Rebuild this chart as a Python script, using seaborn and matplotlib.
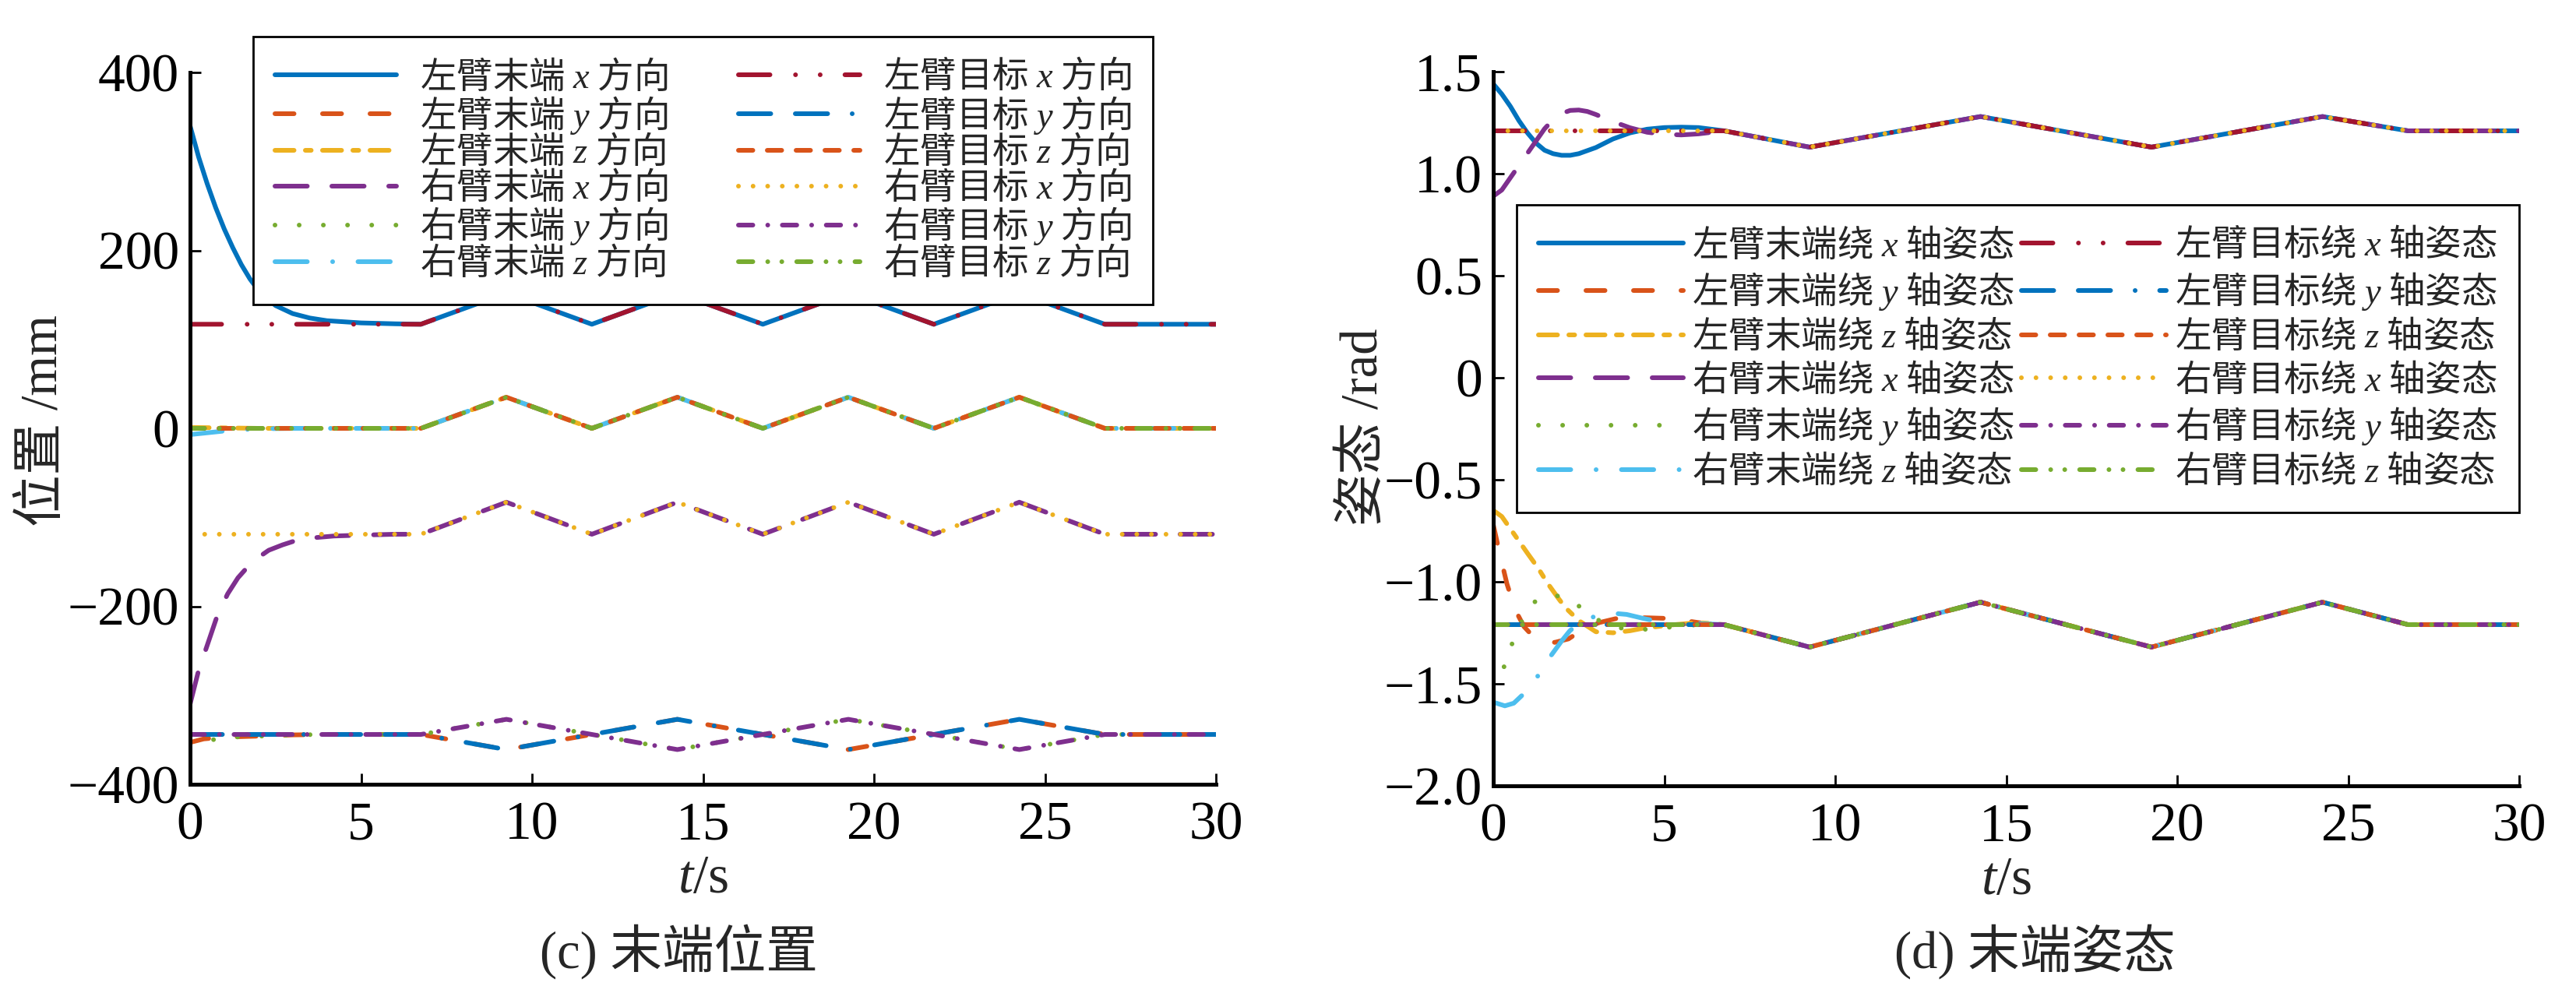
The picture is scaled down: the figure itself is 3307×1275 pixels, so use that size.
import matplotlib
matplotlib.use('Agg')
import matplotlib.pyplot as plt
from matplotlib.ticker import FuncFormatter, MultipleLocator
import seaborn as sns

# ---- knot times of the commanded trajectories (s) ----
t_pos = [0, 6.75, 9.25, 11.75, 14.25, 16.75, 19.25, 21.75, 24.25, 26.75, 30]
t_ori = [0, 6.75, 9.25, 14.25, 19.25, 24.25, 26.75, 30]

# ---- (c) target positions at the knots (mm) ----
pos_lx_tgt = [117, 117, 152, 117, 152, 117, 152, 117, 152, 117, 117]
pos_ly_tgt = [-344, -344, -361, -344, -327, -344, -361, -344, -327, -344, -344]
pos_lz_tgt = [0, 0, 35, 0, 35, 0, 35, 0, 35, 0, 0]
pos_rx_tgt = [-119, -119, -83, -119, -83, -119, -83, -119, -83, -119, -119]
pos_ry_tgt = [-344, -344, -327, -344, -361, -344, -327, -344, -361, -344, -344]
pos_rz_tgt = [0, 0, 35, 0, 35, 0, 35, 0, 35, 0, 0]

# ---- (c) start-up transients of the end effectors ----
tr_lx_t = [0, 0.25, 0.5, 0.75, 1.0, 1.25, 1.5, 1.75, 2.0, 2.5, 3.0, 3.5, 4.0, 5.0, 6.0, 6.75]
tr_lx_v = [340, 305, 275, 248, 224, 203, 184, 168, 155, 138, 129, 124, 121, 118.5, 117.5, 117]
tr_ly_t = [0, 0.4, 1.0, 1.9, 3.0, 4.0, 6.75]
tr_ly_v = [-353, -349, -347, -346, -344.5, -344, -344]
tr_lz_t = [0, 1.0, 2.0, 6.75]
tr_lz_v = [1, 0.5, 0, 0]
tr_rx_t = [0, 0.25, 0.5, 0.8, 1.1, 1.4, 1.7, 2.0, 2.3, 2.7, 3.1, 3.6, 4.2, 5.0, 6.0, 6.75]
tr_rx_v = [-310, -272, -244, -210, -186, -168, -155, -145, -137, -131, -126, -123, -121, -120, -119, -119]
tr_ry_t = [0, 0.3, 0.65, 1.3, 2.0, 3.0, 4.0, 6.75]
tr_ry_v = [-356, -352, -350, -347, -346, -344.5, -344, -344]
tr_rz_t = [0, 0.5, 1.0, 1.5, 2.0, 3.0, 6.75]
tr_rz_v = [-7, -5, -3, -1.5, -0.5, 0, 0]

# ---- (d) target orientations at the knots (rad) ----
ori_x_tgt = [1.21, 1.21, 1.13, 1.28, 1.13, 1.28, 1.21, 1.21]
ori_yz_tgt = [-1.21, -1.21, -1.32, -1.10, -1.32, -1.10, -1.21, -1.21]

# ---- (d) start-up transients ----
to_lx_t = [0, 0.25, 0.5, 0.75, 1.0, 1.25, 1.5, 1.75, 2.0, 2.25, 2.5, 2.75, 3.0, 3.5, 4.0, 4.5, 5.0, 5.5, 6.0, 6.75]
to_lx_v = [1.44, 1.39, 1.33, 1.26, 1.20, 1.15, 1.115, 1.098, 1.09, 1.09, 1.098, 1.113, 1.128, 1.17, 1.20, 1.218, 1.226, 1.228, 1.226, 1.21]
to_rx_t = [0, 0.25, 0.5, 0.75, 1.0, 1.25, 1.5, 1.75, 2.0, 2.25, 2.5, 2.75, 3.0, 3.5, 4.0, 4.5, 5.0, 5.5, 6.0, 6.75]
to_rx_v = [0.89, 0.92, 0.98, 1.04, 1.10, 1.16, 1.22, 1.265, 1.295, 1.31, 1.312, 1.305, 1.29, 1.255, 1.225, 1.203, 1.193, 1.19, 1.195, 1.21]
to_ly_t = [0, 0.2, 0.4, 0.65, 0.9, 1.15, 1.5, 1.8, 2.2, 2.65, 3.1, 3.6, 4.2, 5.2, 6.2, 6.75]
to_ly_v = [-0.72, -0.87, -1.01, -1.14, -1.22, -1.265, -1.29, -1.297, -1.28, -1.23, -1.20, -1.18, -1.175, -1.18, -1.205, -1.21]
to_lz_t = [0, 0.25, 0.5, 0.75, 1.0, 1.3, 1.6, 1.9, 2.1, 2.5, 3.0, 3.5, 4.0, 4.4, 5.3, 6.0, 6.75]
to_lz_v = [-0.65, -0.68, -0.74, -0.80, -0.86, -0.93, -1.01, -1.08, -1.125, -1.19, -1.245, -1.25, -1.24, -1.227, -1.21, -1.20, -1.21]
to_ry_t = [0, 0.2, 0.4, 0.65, 0.95, 1.2, 1.45, 1.75, 2.07, 2.4, 2.66, 3.0, 3.3, 3.9, 4.6, 5.3, 6.0, 6.75]
to_ry_v = [-1.52, -1.48, -1.37, -1.26, -1.155, -1.10, -1.074, -1.065, -1.076, -1.105, -1.14, -1.18, -1.21, -1.233, -1.233, -1.22, -1.21, -1.21]
to_rz_t = [0, 0.34, 0.6, 0.84, 1.05, 1.29, 1.67, 2.0, 2.24, 2.5, 2.85, 3.2, 3.49, 3.9, 4.4, 5.3, 6.0, 6.75]
to_rz_v = [-1.59, -1.608, -1.595, -1.557, -1.515, -1.465, -1.366, -1.29, -1.24, -1.205, -1.176, -1.16, -1.154, -1.16, -1.18, -1.21, -1.205, -1.21]

pos_labels = ['左臂末端 $x$ 方向', '左臂末端 $y$ 方向', '左臂末端 $z$ 方向',
              '右臂末端 $x$ 方向', '右臂末端 $y$ 方向', '右臂末端 $z$ 方向',
              '左臂目标 $x$ 方向', '左臂目标 $y$ 方向', '左臂目标 $z$ 方向',
              '右臂目标 $x$ 方向', '右臂目标 $y$ 方向', '右臂目标 $z$ 方向']
ori_labels = ['左臂末端绕 $x$ 轴姿态', '左臂末端绕 $y$ 轴姿态', '左臂末端绕 $z$ 轴姿态',
              '右臂末端绕 $x$ 轴姿态', '右臂末端绕 $y$ 轴姿态', '右臂末端绕 $z$ 轴姿态',
              '左臂目标绕 $x$ 轴姿态', '左臂目标绕 $y$ 轴姿态', '左臂目标绕 $z$ 轴姿态',
              '右臂目标绕 $x$ 轴姿态', '右臂目标绕 $y$ 轴姿态', '右臂目标绕 $z$ 轴姿态']

# MATLAB default colours
BLUE, ORANGE, YELLOW = '#0072BD', '#D95319', '#EDB120'
PURPLE, GREEN, CYAN, RED = '#7E2F8E', '#77AC30', '#4DBEEE', '#A2142F'

# colour / dash pattern (on-off lengths in pixels) for the 12 series, legend order
styles = [
    (BLUE, None),
    (ORANGE, (24.5, 36.5)),
    (YELLOW, (24.5, 14.5, 7.5, 14.5)),
    (PURPLE, (41.5, 31.5)),
    (GREEN, (0.05, 31)),
    (CYAN, (41.5, 32.5, 0.05, 32.5)),
    (RED, (40.5, 32.75, 0.05, 31.6, 0.05, 31.75)),
    (BLUE, (41.5, 31.5, 41.5, 31.5, 0.05, 31.5)),
    (ORANGE, (18.5, 18.5)),
    (YELLOW, (0.05, 18.7)),
    (PURPLE, (18.5, 19.1, 0.05, 18.7)),
    (GREEN, (18.5, 19.1, 0.05, 18, 0.05, 19.1)),
]

sns.set_style('ticks')
SERIF = ['Liberation Serif', 'Noto Sans CJK SC']
plt.rcParams['font.family'] = SERIF
plt.rcParams['mathtext.fontset'] = 'custom'
plt.rcParams['mathtext.rm'] = 'Liberation Serif'
plt.rcParams['mathtext.it'] = 'Liberation Serif:italic'
plt.rcParams['lines.dash_capstyle'] = 'round'
plt.rcParams['lines.solid_capstyle'] = 'round'
plt.rcParams['axes.unicode_minus'] = True

LW = 4.3
LW_PX = LW * 100 / 72
W, H = 3307, 1275

fig = plt.figure(figsize=(W / 100, H / 100), dpi=100)
ax1 = fig.add_axes([244 / W, 1 - 1007 / H, 1317 / W, 914 / H])
ax2 = fig.add_axes([1917 / W, 1 - 1009 / H, 1317 / W, 917 / H])


def draw(ax, t, v, style, label):
    color, dash = style
    ls = '-' if dash is None else (0, tuple(d / LW_PX for d in dash))
    sns.lineplot(x=t, y=v, ax=ax, color=color, linewidth=LW, linestyle=ls,
                 label=label, legend=False, sort=False, estimator=None)


# (c) end positions then targets
pos_series = [
    (tr_lx_t + t_pos[2:], tr_lx_v + pos_lx_tgt[2:]),
    (tr_ly_t + t_pos[2:], tr_ly_v + pos_ly_tgt[2:]),
    (tr_lz_t + t_pos[2:], tr_lz_v + pos_lz_tgt[2:]),
    (tr_rx_t + t_pos[2:], tr_rx_v + pos_rx_tgt[2:]),
    (tr_ry_t + t_pos[2:], tr_ry_v + pos_ry_tgt[2:]),
    (tr_rz_t + t_pos[2:], tr_rz_v + pos_rz_tgt[2:]),
    (t_pos, pos_lx_tgt), (t_pos, pos_ly_tgt), (t_pos, pos_lz_tgt),
    (t_pos, pos_rx_tgt), (t_pos, pos_ry_tgt), (t_pos, pos_rz_tgt),
]
for (t, v), st, lab in zip(pos_series, styles, pos_labels):
    draw(ax1, t, v, st, lab)

ori_series = [
    (to_lx_t + t_ori[2:], to_lx_v + ori_x_tgt[2:]),
    (to_ly_t + t_ori[2:], to_ly_v + ori_yz_tgt[2:]),
    (to_lz_t + t_ori[2:], to_lz_v + ori_yz_tgt[2:]),
    (to_rx_t + t_ori[2:], to_rx_v + ori_x_tgt[2:]),
    (to_ry_t + t_ori[2:], to_ry_v + ori_yz_tgt[2:]),
    (to_rz_t + t_ori[2:], to_rz_v + ori_yz_tgt[2:]),
    (t_ori, ori_x_tgt), (t_ori, ori_yz_tgt), (t_ori, ori_yz_tgt),
    (t_ori, ori_x_tgt), (t_ori, ori_yz_tgt), (t_ori, ori_yz_tgt),
]
for (t, v), st, lab in zip(ori_series, styles, ori_labels):
    draw(ax2, t, v, st, lab)


def fmt_minus(fmt):
    def f(v, pos):
        if abs(v) < 1e-9:
            return '0'
        return format(v, fmt).replace('-', '\u2212')
    return FuncFormatter(f)


for ax in (ax1, ax2):
    ax.set_xlim(0, 30)
    ax.xaxis.set_major_locator(MultipleLocator(5))
    for side in ('top', 'right'):
        ax.spines[side].set_visible(False)
    for side in ('left', 'bottom'):
        ax.spines[side].set_linewidth(3.6)
        ax.spines[side].set_color('black')
    ax.tick_params(direction='in', length=10, width=2, labelsize=50,
                   colors='black', pad=10)
    ax.tick_params(axis='x', pad=16)
    for lab in ax.get_xticklabels() + ax.get_yticklabels():
        lab.set_family('Liberation Serif')
    ax.set_xlabel('$t$/s', fontsize=50)
    ax.xaxis.set_label_coords(0.5, -0.099)
    ax.grid(False)

ax1.set_ylim(-400, 400)
ax1.yaxis.set_major_locator(MultipleLocator(200))
ax1.yaxis.set_major_formatter(fmt_minus('.0f'))
ax1.set_ylabel('位置 /mm', fontsize=48)
ax1.yaxis.set_label_coords(-0.119, 0.511)

ax2.set_ylim(-2.0, 1.5)
ax2.yaxis.set_major_locator(MultipleLocator(0.5))
ax2.yaxis.set_major_formatter(fmt_minus('.1f'))
ax2.set_ylabel('姿态 /rad', fontsize=48)
ax2.yaxis.set_label_coords(-0.103, 0.502)

h1, l1 = ax1.get_legend_handles_labels()
leg1 = ax1.legend(h1, l1, ncol=2, loc='upper left',
                  bbox_to_anchor=(325 / W, 1 - 47 / H), bbox_transform=fig.transFigure,
                  prop={'family': 'Noto Sans CJK SC', 'size': 33.5},
                  frameon=True, fancybox=False, framealpha=1, edgecolor='black',
                  borderaxespad=0, borderpad=0.6, labelspacing=-0.06,
                  handlelength=3.35, handletextpad=0.645, columnspacing=1.95)
leg1.get_frame().set_linewidth(2)

h2, l2 = ax2.get_legend_handles_labels()
leg2 = ax2.legend(h2, l2, ncol=2, loc='upper right',
                  bbox_to_anchor=(3234 / W, 1 - 263 / H), bbox_transform=fig.transFigure,
                  prop={'family': 'Noto Sans CJK SC', 'size': 33.5},
                  frameon=True, fancybox=False, framealpha=1, edgecolor='black',
                  borderaxespad=0, borderpad=0.6, labelspacing=0.16,
                  handlelength=4.0, handletextpad=0.24, columnspacing=0.2)
leg2.get_frame().set_linewidth(2)

fig.text(871 / W, 1 - 1222 / H, '(c) 末端位置', ha='center', va='center', fontsize=48)
fig.text(2612 / W, 1 - 1222 / H, '(d) 末端姿态', ha='center', va='center', fontsize=48)

fig.savefig('out.png', dpi=100, facecolor='white')
